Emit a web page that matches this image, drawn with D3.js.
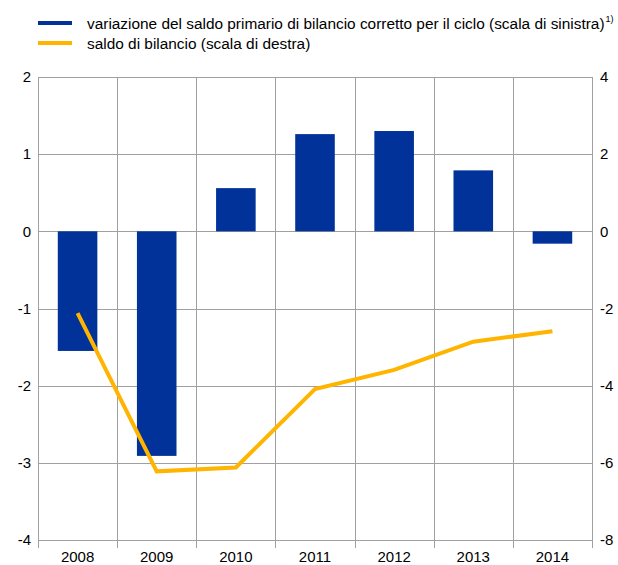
<!DOCTYPE html>
<html>
<head>
<meta charset="utf-8">
<script src="https://cdn.jsdelivr.net/npm/d3@7"></script>
<style>
  body { margin: 0; background: #fff; }
  svg { font-family: "Liberation Sans", Arial, sans-serif; }
</style>
</head>
<body>
<div class="chart"></div>
<script>
// dati
const years = ['2008', '2009', '2010', '2011', '2012', '2013', '2014'];
const primaryChange = [-1.55, -2.91, 0.56, 1.26, 1.30, 0.79, -0.16];
const budgetBalance = [-2.12, -6.22, -6.12, -4.09, -3.59, -2.86, -2.59];
const leftTicks = [2, 1, 0, -1, -2, -3, -4];
const rightTicks = [4, 2, 0, -2, -4, -6, -8];
const legendLabels = [
  'variazione del saldo primario di bilancio corretto per il ciclo (scala di sinistra)',
  'saldo di bilancio (scala di destra)'
];

const W = 618, H = 565;
const Margin = {top: 77, bottom: 25, left: 38, right: 26};
const Colors = ['#003299', '#FFB400'];
const gridColor = '#a0a0a0';

const svg = d3.select('.chart').append('svg')
  .attr('width', W)
  .attr('height', H);

const x = d3.scaleBand()
  .domain(years)
  .range([Margin.left, W - Margin.right])
  .paddingInner(0.5)
  .paddingOuter(0.25);

const xEdge = d3.scaleBand()
  .domain(years)
  .range([Margin.left, W - Margin.right]);

const yL = d3.scaleLinear().domain([-4, 2]).range([H - Margin.bottom, Margin.top]);
const yR = d3.scaleLinear().domain([-8, 4]).range([H - Margin.bottom, Margin.top]);

// griglia orizzontale
svg.append('g')
  .selectAll('line')
  .data(leftTicks)
  .join('line')
    .attr('x1', Margin.left)
    .attr('x2', W - Margin.right)
    .attr('y1', d => Math.round(yL(d)) + 0.5)
    .attr('y2', d => Math.round(yL(d)) + 0.5)
    .attr('stroke', gridColor);

// griglia verticale (con tacche sotto l'asse)
const edges = years.map(d => xEdge(d)).concat([W - Margin.right]);
svg.append('g')
  .selectAll('line')
  .data(edges)
  .join('line')
    .attr('x1', d => Math.round(d) + 0.5)
    .attr('x2', d => Math.round(d) + 0.5)
    .attr('y1', Margin.top)
    .attr('y2', H - Margin.bottom + 8)
    .attr('stroke', gridColor);

// barre
svg.append('g')
  .selectAll('rect')
  .data(years)
  .join('rect')
    .attr('x', d => x(d))
    .attr('width', x.bandwidth())
    .attr('y', (d, i) => yL(Math.max(0, primaryChange[i])))
    .attr('height', (d, i) => Math.abs(yL(primaryChange[i]) - yL(0)))
    .attr('fill', Colors[0]);

// linea
const line = d3.line()
  .x((d, i) => x(years[i]) + x.bandwidth() / 2)
  .y(d => yR(d));

svg.append('path')
  .datum(budgetBalance)
  .attr('d', line)
  .attr('fill', 'none')
  .attr('stroke', Colors[1])
  .attr('stroke-width', 4)
  .attr('stroke-linejoin', 'miter');

// etichette assi
svg.append('g')
  .selectAll('text')
  .data(leftTicks)
  .join('text')
    .attr('x', 31)
    .attr('y', d => yL(d))
    .attr('dy', '0.35em')
    .attr('text-anchor', 'end')
    .style('font-size', '15px')
    .text(d => d);

svg.append('g')
  .selectAll('text')
  .data(rightTicks)
  .join('text')
    .attr('x', 600)
    .attr('y', d => yR(d))
    .attr('dy', '0.35em')
    .attr('text-anchor', 'start')
    .style('font-size', '15px')
    .text(d => d);

svg.append('g')
  .selectAll('text')
  .data(years)
  .join('text')
    .attr('x', d => xEdge(d) + xEdge.bandwidth() / 2)
    .attr('y', H - 3)
    .attr('text-anchor', 'middle')
    .style('font-size', '15px')
    .text(d => d);

// legenda
legendLabels.forEach((label, i) => {
  const ly = 23 + i * 20;
  svg.append('line')
    .attr('x1', 38).attr('x2', 72)
    .attr('y1', ly).attr('y2', ly)
    .attr('stroke', Colors[i])
    .attr('stroke-width', 4);
  const t = svg.append('text')
    .attr('x', 87)
    .attr('y', ly + 6)
    .style('font-size', '15.4px')
    .text(label);
  if (i === 0) {
    t.append('tspan')
      .attr('dy', -7)
      .attr('dx', 1)
      .style('font-size', '9px')
      .text('1)');
  }
});
</script>
</body>
</html>
